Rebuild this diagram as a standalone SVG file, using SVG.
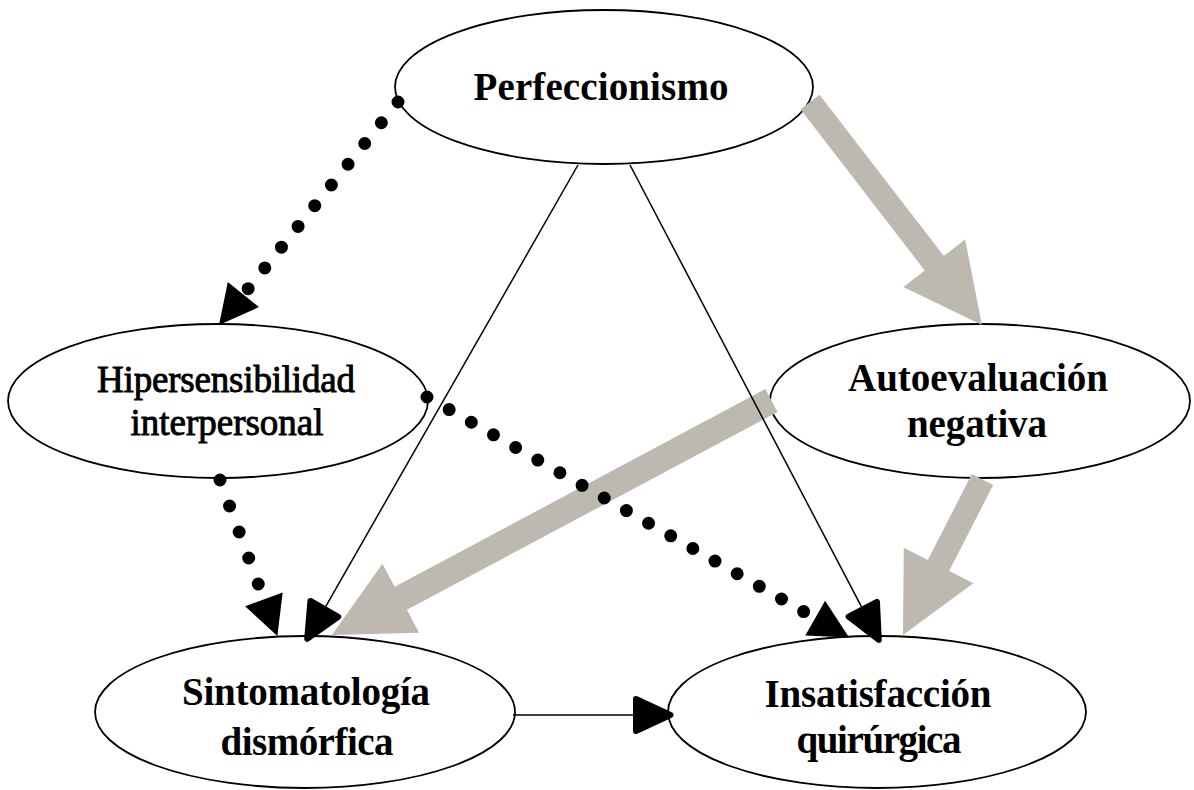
<svg xmlns="http://www.w3.org/2000/svg" width="1194" height="790" viewBox="0 0 1194 790">
  <style>
    .node ellipse { fill: #ffffff; stroke: #000000; stroke-width: 1.8; }
    .lbl { font-family: "Liberation Serif", "Times New Roman", serif; font-size: 39px; font-weight: bold; fill: #000000; text-anchor: middle; }
    .lbl-r { font-family: "Liberation Serif", "Times New Roman", serif; font-size: 37px; font-weight: normal; fill: #000000; stroke: #000000; stroke-width: 0.9; text-anchor: middle; }
    .dots { fill: none; stroke: #000000; stroke-width: 13; stroke-linecap: round; marker-end: url(#dotHead); }
    .thin { fill: none; stroke: #000000; stroke-width: 1.5; marker-end: url(#thinHead); }
    .gray { fill: none; stroke: #bdb9b1; stroke-linecap: butt; marker-end: url(#grayHead); }
  </style>
  <defs>
    <marker id="dotHead" markerUnits="userSpaceOnUse" orient="auto" refX="0" refY="0" markerWidth="60" markerHeight="60" overflow="visible">
      <path d="M0,-20 L39,0 L0,20 z" fill="#000000"/>
    </marker>
    <marker id="thinHead" markerUnits="userSpaceOnUse" orient="auto" refX="0" refY="0" markerWidth="60" markerHeight="60" overflow="visible">
      <path d="M3,-16 L37.5,0 L3,16 z" fill="#000000" stroke="#000000" stroke-width="6" stroke-linejoin="round"/>
    </marker>
    <marker id="grayHead" markerUnits="userSpaceOnUse" orient="auto" refX="2" refY="0" markerWidth="100" markerHeight="100" overflow="visible">
      <path d="M0,-39 L78,0 L0,39 z" fill="#bdb9b1"/>
    </marker>
  </defs>

  <g id="perfeccionismo" class="node">
    <ellipse cx="604" cy="87" rx="209" ry="77"/>
    <text class="lbl" x="601" y="100" textLength="255" lengthAdjust="spacing">Perfeccionismo</text>
  </g>
  <g id="hipersensibilidad" class="node">
    <ellipse cx="218" cy="401" rx="210" ry="77"/>
    <text class="lbl-r" x="226" y="392" textLength="258" lengthAdjust="spacing">Hipersensibilidad</text>
    <text class="lbl-r" x="227" y="435" textLength="193" lengthAdjust="spacing">interpersonal</text>
  </g>
  <g id="autoevaluacion" class="node">
    <ellipse cx="980" cy="401" rx="210" ry="77"/>
    <text class="lbl" x="978" y="391" textLength="260" lengthAdjust="spacing">Autoevaluación</text>
    <text class="lbl" x="977" y="437" textLength="140" lengthAdjust="spacing">negativa</text>
  </g>
  <g id="sintomatologia" class="node">
    <ellipse cx="305" cy="712" rx="210" ry="76"/>
    <text class="lbl" x="306" y="705" textLength="248" lengthAdjust="spacing">Sintomatología</text>
    <text class="lbl" x="307" y="755" textLength="173" lengthAdjust="spacing">dismórfica</text>
  </g>
  <g id="insatisfaccion" class="node">
    <ellipse cx="877" cy="712" rx="209" ry="76"/>
    <text class="lbl" x="878" y="707" textLength="227" lengthAdjust="spacing">Insatisfacción</text>
    <text class="lbl" x="879" y="753" textLength="165" lengthAdjust="spacing">quirúrgica</text>
  </g>

  <g id="connectors">
    <line class="gray" x1="810" y1="102" x2="935.5" y2="264.8" stroke-width="24"/>
    <line class="gray" x1="771.5" y1="400.5" x2="399" y2="599.2" stroke-width="26"/>
    <line class="gray" x1="982.5" y1="479.5" x2="937.6" y2="567.3" stroke-width="24"/>
    <path class="thin" d="M578,165 L325.8,606.3"/>
    <path class="thin" d="M630,165 L861.4,606.6"/>
    <path class="thin" d="M513,715 L633,715"/>
    <path class="dots" d="M398,102 L243.4,294.6" stroke-dasharray="0 26.6"/>
    <path class="dots" d="M220,480 L263.9,599.3" stroke-dasharray="0 27.7"/>
    <path class="dots" d="M427,397 L815.2,618.2" stroke-dasharray="0 25.5"/>
  </g>
</svg>
